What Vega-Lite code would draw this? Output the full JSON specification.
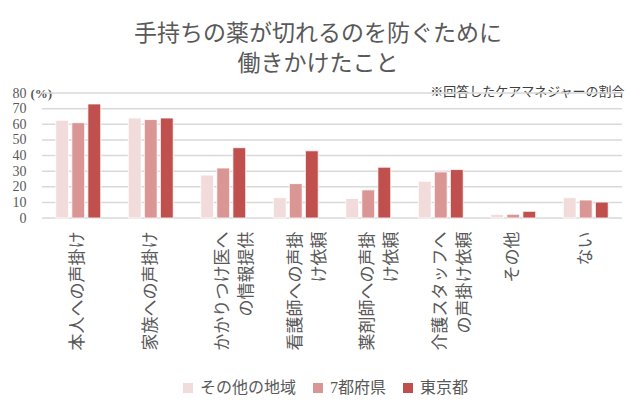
{
  "$schema": "https://vega.github.io/schema/vega-lite/v6.json",
  "width": 580,
  "height": 125,
  "autosize": {"type": "none"},
  "padding": {"left": 42, "top": 93, "right": 18, "bottom": 192},
  "background": "white",
  "config": {
    "font": "'Liberation Serif', 'Noto Sans CJK JP'",
    "view": {"stroke": null}
  },
  "title": {
    "text": ["手持ちの薬が切れるのを防ぐために", "働きかけたこと"],
    "frame": "bounds",
    "anchor": "middle",
    "fontSize": 23,
    "fontWeight": "normal",
    "color": "#595959",
    "lineHeight": 30,
    "offset": 9
  },
  "layer": [
    {
      "data": {"values": [{"value": 0}, {"value": 10}, {"value": 20}, {"value": 30}, {"value": 40}, {"value": 50}, {"value": 60}, {"value": 70}, {"value": 80}]},
      "mark": {"type": "tick", "orient": "horizontal", "size": 580, "thickness": 1.5, "color": "#d9d9d9", "opacity": 1},
      "encoding": {
        "y": {
          "field": "value",
          "type": "quantitative",
          "scale": {"domain": [0, 80], "nice": false},
          "axis": {
            "values": [0, 10, 20, 30, 40, 50, 60, 70, 80],
            "domain": false,
            "ticks": false,
            "grid": false,
            "labelOverlap": false,
            "labelPadding": 16,
            "labelFontSize": 14,
            "labelColor": "#595959",
            "title": "(%)",
            "titleAngle": 0,
            "titleAlign": "left",
            "titleBaseline": "middle",
            "titleX": -12,
            "titleY": 0,
            "titleFontSize": 13,
            "titleFontWeight": "bold",
            "titleColor": "#595959"
          }
        }
      }
    },
    {
      "data": {
        "values": [
          {"item": "本人への声掛け", "region": "その他の地域", "value": 62.5},
          {"item": "本人への声掛け", "region": "7都府県", "value": 61},
          {"item": "本人への声掛け", "region": "東京都", "value": 73},
          {"item": "家族への声掛け", "region": "その他の地域", "value": 64},
          {"item": "家族への声掛け", "region": "7都府県", "value": 63},
          {"item": "家族への声掛け", "region": "東京都", "value": 64},
          {"item": "かかりつけ医への情報提供", "region": "その他の地域", "value": 27.5},
          {"item": "かかりつけ医への情報提供", "region": "7都府県", "value": 32},
          {"item": "かかりつけ医への情報提供", "region": "東京都", "value": 45},
          {"item": "看護師への声掛け依頼", "region": "その他の地域", "value": 13},
          {"item": "看護師への声掛け依頼", "region": "7都府県", "value": 22},
          {"item": "看護師への声掛け依頼", "region": "東京都", "value": 43},
          {"item": "薬剤師への声掛け依頼", "region": "その他の地域", "value": 12.5},
          {"item": "薬剤師への声掛け依頼", "region": "7都府県", "value": 18},
          {"item": "薬剤師への声掛け依頼", "region": "東京都", "value": 32.5},
          {"item": "介護スタッフへの声掛け依頼", "region": "その他の地域", "value": 23.5},
          {"item": "介護スタッフへの声掛け依頼", "region": "7都府県", "value": 29.5},
          {"item": "介護スタッフへの声掛け依頼", "region": "東京都", "value": 31},
          {"item": "その他", "region": "その他の地域", "value": 2.3},
          {"item": "その他", "region": "7都府県", "value": 2.4},
          {"item": "その他", "region": "東京都", "value": 4.3},
          {"item": "ない", "region": "その他の地域", "value": 13},
          {"item": "ない", "region": "7都府県", "value": 11.5},
          {"item": "ない", "region": "東京都", "value": 10.2}
        ]
      },
      "mark": {"type": "bar", "stroke": "white", "strokeWidth": 0.8},
      "encoding": {
        "x": {
          "field": "item",
          "type": "nominal",
          "sort": ["本人への声掛け", "家族への声掛け", "かかりつけ医への情報提供", "看護師への声掛け依頼", "薬剤師への声掛け依頼", "介護スタッフへの声掛け依頼", "その他", "ない"],
          "scale": {"paddingInner": 0.38, "paddingOuter": 0.19},
          "axis": {
            "title": "※回答したケアマネジャーの割合",
            "titleX": 582,
            "titleY": -123,
            "titleAlign": "right",
            "titleAnchor": null,
            "titleBaseline": "alphabetic",
            "titleFontSize": 13,
            "titleFontWeight": "normal",
            "titleColor": "#404040",
            "domain": false,
            "ticks": false,
            "grid": false,
            "labelAngle": -90,
            "labelAlign": "right",
            "labelBaseline": "middle",
            "labelPadding": 13,
            "labelFontSize": 17,
            "labelLineHeight": 24,
            "labelColor": "#595959",
            "labelLimit": 300,
            "labelExpr": "datum.value == 'かかりつけ医への情報提供' ? ['かかりつけ医へ', 'の情報提供\u3000'] : datum.value == '看護師への声掛け依頼' ? ['看護師への声掛', 'け依頼\u3000\u3000'] : datum.value == '薬剤師への声掛け依頼' ? ['薬剤師への声掛', 'け依頼\u3000\u3000'] : datum.value == '介護スタッフへの声掛け依頼' ? ['介護スタッフへ', 'の声掛け依頼\u2004'] : datum.value"
          }
        },
        "xOffset": {
          "field": "region",
          "type": "nominal",
          "sort": ["その他の地域", "7都府県", "東京都"],
          "scale": {"paddingInner": 0.2, "paddingOuter": 0}
        },
        "y": {
          "field": "value",
          "type": "quantitative",
          "scale": {"domain": [0, 80], "nice": false},
          "axis": {
            "values": [0, 10, 20, 30, 40, 50, 60, 70, 80],
            "domain": false,
            "ticks": false,
            "grid": false,
            "labelOverlap": false,
            "labelPadding": 16,
            "labelFontSize": 14,
            "labelColor": "#595959",
            "title": "(%)",
            "titleAngle": 0,
            "titleAlign": "left",
            "titleBaseline": "middle",
            "titleX": -12,
            "titleY": 0,
            "titleFontSize": 13,
            "titleFontWeight": "bold",
            "titleColor": "#595959"
          }
        },
        "color": {
          "field": "region",
          "type": "nominal",
          "sort": ["その他の地域", "7都府県", "東京都"],
          "scale": {"domain": ["その他の地域", "7都府県", "東京都"], "range": ["#F2DCDB", "#DA9694", "#C0504D"]},
          "legend": {
            "title": null,
            "orient": "none",
            "direction": "horizontal",
            "legendX": 138,
            "legendY": 287,
            "symbolType": "square",
            "symbolSize": 100,
            "symbolStrokeWidth": 0,
            "labelFontSize": 16,
            "labelColor": "#595959",
            "labelOffset": 4,
            "columnPadding": 13,
            "padding": 0
          }
        }
      }
    }
  ]
}
